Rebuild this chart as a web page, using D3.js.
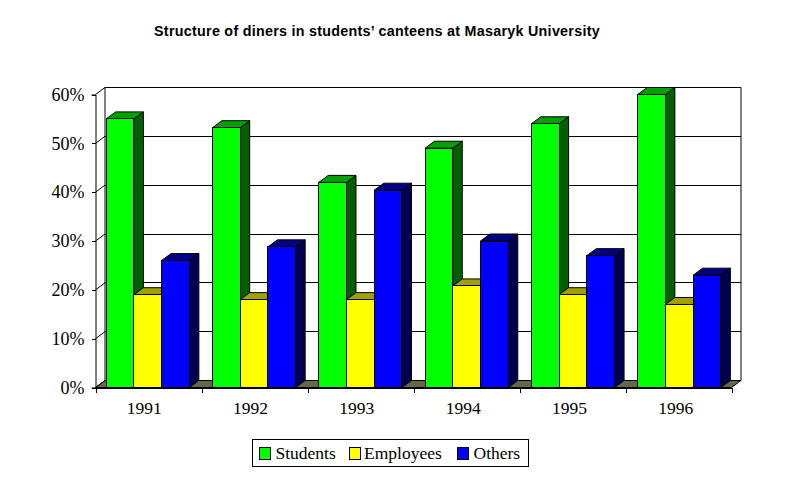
<!DOCTYPE html>
<html><head><meta charset="utf-8">
<script src="https://cdn.jsdelivr.net/npm/d3@7"></script>
<style>html,body{margin:0;padding:0;background:#fff}svg{display:block}</style></head>
<body><div id="c"></div>
<script>
const categories = ["1991","1992","1993","1994","1995","1996"];
const students = [55,53.2,42,49,54,60];
const employees = [19,18,18,20.8,19,17];
const others = [26,28.8,40.4,30,27,23];
const yTicks = [0,10,20,30,40,50,60];
const seriesNames = ["Students","Employees","Others"];
const frontColors = ["#00ff00","#ffff00","#0000ff"];
const topColors = ["#00a000","#a0a000","#000080"];
const sideColors = ["#006000","#606000","#000050"];
const title = "Structure of diners in students\u2019 canteens at Masaryk University";
const seriesValues = [students, employees, others];

const W=789,H=478,dx=9.5,dy=-7;
const svg=d3.select("#c").append("svg").attr("width",W).attr("height",H).attr("viewBox",`0 0 ${W} ${H}`);
const serif="'Liberation Serif','Times New Roman',serif";
const x=d3.scaleBand().domain(categories).range([95.5,731.5]).paddingInner(0.217).paddingOuter(0.1);
const sub=d3.scaleBand().domain(seriesNames).range([0,x.bandwidth()]);
const y=d3.scaleLinear().domain([0,60]).range([387.5,94.5]);
const x0=95.5,x1=731.5,y0=y(0),yT=y(60);

const poly=(pts,fill,g=svg)=>g.append("polygon").attr("points",pts.map(p=>p.join(",")).join(" "))
  .attr("fill",fill).attr("stroke","#000").attr("stroke-width",1).attr("stroke-linejoin","miter");

svg.append("text").attr("x",377).attr("y",36).attr("text-anchor","middle")
  .attr("font-family","'Liberation Sans',Arial,sans-serif").attr("font-weight","bold").attr("font-size",14.3).attr("letter-spacing",0.28).text(title);

// wall and floor
poly([[x0+dx,yT+dy],[x1+dx,yT+dy],[x1+dx,y0+dy],[x0+dx,y0+dy]],"#fff");
poly([[x0,y0],[x0+dx,y0+dy],[x1+dx,y0+dy],[x1,y0]],"#666648");

// gridlines on the wall and left side
const line=(a,b,c,d)=>svg.append("line").attr("x1",a).attr("y1",b).attr("x2",c).attr("y2",d).attr("stroke","#000").attr("stroke-width",1);
yTicks.forEach(t=>{
  if(t>0&&t<60) line(x0+dx,y(t)+dy,x1+dx,y(t)+dy).attr("shape-rendering","crispEdges");
  line(x0,y(t),x0+dx,y(t)+dy);
});

// bars
categories.forEach((c,i)=>{
  seriesNames.forEach((s,k)=>{
    const v=seriesValues[k][i], l=x(c)+sub(s), r=l+sub.bandwidth(), t=y(v);
    poly([[r,t],[r+dx,t+dy],[r+dx,y0+dy],[r,y0]],sideColors[k]);
    poly([[l,t],[l+dx,t+dy],[r+dx,t+dy],[r,t]],topColors[k]);
    poly([[l,t],[r,t],[r,y0],[l,y0]],frontColors[k]).attr("shape-rendering","crispEdges");
  });
});

// axes
const axisLeft=d3.axisLeft(y).tickValues(yTicks).tickSize(4).tickPadding(7).tickFormat(d=>d+"%");
const gy=svg.append("g").attr("transform",`translate(${x0},0)`).call(axisLeft);
gy.select(".domain").attr("stroke","#000");
gy.selectAll("text").attr("font-family",serif).attr("font-size",18).attr("fill","#000");
gy.selectAll("line").attr("shape-rendering","crispEdges");

const gx=svg.append("g").attr("transform",`translate(0,${y0})`).call(
  d3.axisBottom(d3.scaleLinear().domain([0,categories.length]).range([x0,x1])).ticks(categories.length).tickSize(5).tickFormat(""));
gx.selectAll("line").attr("shape-rendering","crispEdges");
gx.select(".domain").attr("shape-rendering","crispEdges");
categories.forEach(c=>svg.append("text").attr("x",x(c)+x.bandwidth()/2-3.5).attr("y",414).attr("text-anchor","middle")
  .attr("font-family",serif).attr("font-size",17.5).text(c));

// legend
const lg=svg.append("g");
lg.append("rect").attr("x",252.5).attr("y",439.5).attr("width",276).attr("height",27).attr("fill","#fff").attr("stroke","#000");
const swX=[259.5,349.5,457.5], txX=[275.5,364,473.5];
seriesNames.forEach((s,k)=>{
  lg.append("rect").attr("x",swX[k]).attr("y",447.5).attr("width",11).attr("height",12).attr("fill",frontColors[k]).attr("stroke","#000");
  lg.append("text").attr("x",txX[k]).attr("y",458.5).attr("font-family",serif).attr("font-size",17.5).text(s);
});
</script></body></html>
